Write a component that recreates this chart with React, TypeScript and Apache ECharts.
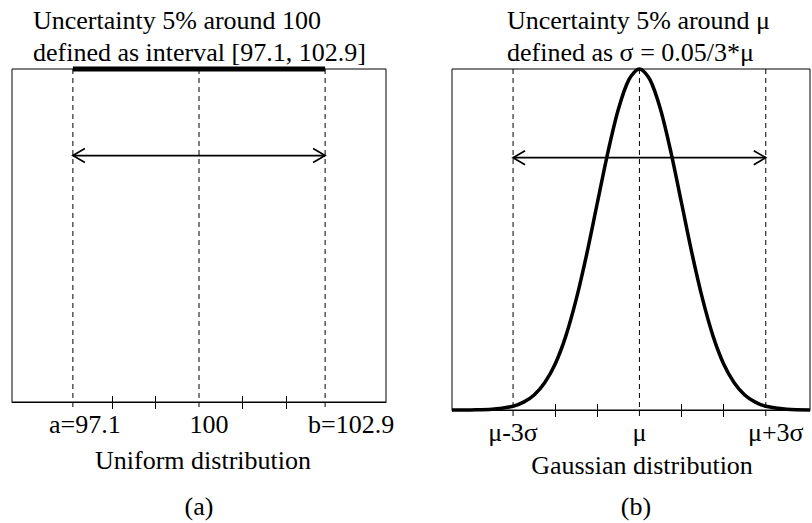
import React, { useEffect, useRef } from "react";
import * as echarts from "echarts";

// Panel (a): uniform distribution on [a, b]
const uniformBounds = [97.1, 102.9];
const uniformCenter = 100;
const uniformRange = [95.7, 104.3];
const uniformMarks = [97.1, 100, 102.9];
const uniformMarkLabels = ["a=97.1", "100", "b=102.9"];
const uniformLabelShift = [12, 10, 26]; // labels sit a little right of their guide lines
const uniformTicks = [98, 99, 101, 102];
const uniformArrowLevel = 0.74; // arrow height as a share of the density

// Panel (b): Gaussian distribution, x measured in units of sigma around mu
const sigmaRange = [-4.45, 4.05];
const sigmaMarks = [-3, 0, 3];
const sigmaMarkLabels = ["μ-3σ", "μ", "μ+3σ"];
const sigmaLabelShift = [0, 0, 10];
const sigmaTicks = [-2, -1, 1, 2];
const gaussX = [-4.45, -4, -3.5, -3, -2.75, -2.5, -2.25, -2, -1.75, -1.5, -1.25, -1, -0.75, -0.5, -0.25, 0,
  0.25, 0.5, 0.75, 1, 1.25, 1.5, 1.75, 2, 2.25, 2.5, 2.75, 3, 3.5, 4.05];
const gaussY = [0, 0.0003, 0.002, 0.011, 0.023, 0.044, 0.08, 0.135, 0.216, 0.325, 0.458, 0.607, 0.755, 0.882, 0.969, 1,
  0.969, 0.882, 0.755, 0.607, 0.458, 0.325, 0.216, 0.135, 0.08, 0.044, 0.023, 0.011, 0.002, 0.0003];
const gaussArrowLevel = 0.74;

const FONT = "'Liberation Serif', 'Times New Roman', serif";
const SIZE = 26;

// label text for a mark, nudged right with left padding inside a rich fragment
const labelFor = (marks: number[], labels: string[]) => (v: number) => {
  const i = marks.findIndex((m) => Math.abs(m - v) < 1e-6);
  return i >= 0 ? `{s${i}|${labels[i]}}` : "";
};
const richFor = (shifts: number[]) => {
  const rich: any = {};
  shifts.forEach((s, i) => {
    rich["s" + i] = { fontFamily: FONT, fontSize: SIZE, color: "#000", padding: [0, 0, 0, s * 2] };
  });
  return rich;
};

// horizontal double-headed arrow with open chevron heads
const arrowRender = (params: any, api: any) => {
  const p1 = api.coord([api.value(0), api.value(1)]);
  const p2 = api.coord([api.value(2), api.value(1)]);
  const h = 12;
  const w = 7;
  const style = { stroke: "#000", fill: null, lineWidth: 1.7 };
  return {
    type: "group",
    children: [
      { type: "line", shape: { x1: p1[0], y1: p1[1], x2: p2[0], y2: p2[1] }, style },
      { type: "polyline", shape: { points: [[p1[0] + h, p1[1] - w], [p1[0], p1[1]], [p1[0] + h, p1[1] + w]] }, style },
      { type: "polyline", shape: { points: [[p2[0] - h, p2[1] - w], [p2[0], p2[1]], [p2[0] - h, p2[1] + w]] }, style },
    ],
  };
};

// dashed vertical guide running from just below the axis up to a given value
const guideRender = (params: any, api: any) => {
  const top = api.coord([api.value(0), api.value(1)]);
  const bottom = api.coord([api.value(0), 0]);
  return {
    type: "line",
    shape: { x1: top[0], y1: top[1], x2: bottom[0], y2: bottom[1] + 7 },
    style: { stroke: "#000", lineWidth: 1, lineDash: [5, 4] },
  };
};

const tickAxes = (
  gridIndex: number,
  range: number[],
  ticks: number[],
  marks: number[],
  labels: string[],
  shifts: number[]
) => [
  {
    gridIndex,
    type: "value",
    position: "bottom",
    min: range[0],
    max: range[1],
    axisLine: { show: true, onZero: false, lineStyle: { color: "#000", width: 1 } },
    axisTick: { show: true, customValues: ticks, length: 7, lineStyle: { color: "#000", width: 1 } },
    axisLabel: {
      customValues: marks,
      formatter: labelFor(marks, labels),
      rich: richFor(shifts),
      color: "#000",
      fontFamily: FONT,
      fontSize: SIZE,
      margin: 9,
    },
    splitLine: { show: false },
  },
  {
    gridIndex,
    type: "value",
    position: "bottom",
    min: range[0],
    max: range[1],
    axisLine: { show: false },
    axisTick: { show: true, inside: true, customValues: ticks, length: 6, lineStyle: { color: "#000", width: 1 } },
    axisLabel: { show: false },
    splitLine: { show: false },
  },
];

const centeredText = (text: string, x: number, y: number) => ({
  type: "text",
  x,
  y,
  style: { text, font: `${SIZE}px ${FONT}`, align: "center", verticalAlign: "middle", fill: "#000" },
});

export default function App() {
  const ref = useRef<HTMLDivElement>(null);

  useEffect(() => {
    if (!ref.current) return;
    const chart = echarts.init(ref.current, null, { renderer: "svg" });
    const [a, b] = uniformBounds;
    const density = 1 / (b - a);

    const option: any = {
      animation: false,
      backgroundColor: "#fff",
      grid: [
        { left: 12, top: 69, width: 374, height: 333, show: true, borderColor: "#000", borderWidth: 1, backgroundColor: "#fff" },
        { left: 452, top: 69, width: 358, height: 341, show: true, borderColor: "#000", borderWidth: 1, backgroundColor: "#fff" },
      ],
      xAxis: [
        ...tickAxes(0, uniformRange, uniformTicks, uniformMarks, uniformMarkLabels, uniformLabelShift),
        ...tickAxes(1, sigmaRange, sigmaTicks, sigmaMarks, sigmaMarkLabels, sigmaLabelShift),
      ],
      yAxis: [
        { gridIndex: 0, type: "value", min: 0, max: density, show: false },
        { gridIndex: 1, type: "value", min: 0, max: 1, show: false },
      ],
      series: [
        {
          type: "custom",
          xAxisIndex: 0,
          yAxisIndex: 0,
          clip: false,
          renderItem: guideRender,
          encode: { x: 0, y: 1 },
          data: uniformMarks.map((m) => [m, density]),
        },
        {
          type: "line",
          xAxisIndex: 0,
          yAxisIndex: 0,
          clip: false,
          symbol: "none",
          lineStyle: { color: "#000", width: 5 },
          data: [[a, density], [b, density]],
          z: 5,
        },
        {
          type: "custom",
          xAxisIndex: 0,
          yAxisIndex: 0,
          renderItem: arrowRender,
          encode: { x: [0, 2], y: 1 },
          data: [[a, density * uniformArrowLevel, b]],
        },
        {
          type: "custom",
          xAxisIndex: 2,
          yAxisIndex: 1,
          clip: false,
          renderItem: guideRender,
          encode: { x: 0, y: 1 },
          data: sigmaMarks.map((m) => [m, 1]),
        },
        {
          type: "line",
          xAxisIndex: 2,
          yAxisIndex: 1,
          clip: false,
          symbol: "none",
          smooth: 0.3,
          lineStyle: { color: "#000", width: 3.5 },
          data: gaussX.map((x, i) => [x, gaussY[i]]),
          z: 5,
        },
        {
          type: "custom",
          xAxisIndex: 2,
          yAxisIndex: 1,
          renderItem: arrowRender,
          encode: { x: [0, 2], y: 1 },
          data: [[sigmaMarks[0], gaussArrowLevel, sigmaMarks[2]]],
        },
      ],
      graphic: [
        {
          type: "text",
          left: 33,
          top: 4,
          style: {
            text: "Uncertainty 5% around " + uniformCenter + "\ndefined as interval [" + a + ", " + b + "]",
            font: `${SIZE}px ${FONT}`,
            lineHeight: 32,
            fill: "#000",
          },
        },
        {
          type: "text",
          left: 507,
          top: 4,
          style: {
            text: "Uncertainty 5% around μ\ndefined as σ = 0.05/3*μ",
            font: `${SIZE}px ${FONT}`,
            lineHeight: 32,
            fill: "#000",
          },
        },
        centeredText("Uniform distribution", 203, 460),
        centeredText("Gaussian distribution", 642, 465),
        centeredText("(a)", 199, 506),
        centeredText("(b)", 636, 506),
      ],
    };

    chart.setOption(option);
    return () => chart.dispose();
  }, []);

  return <div ref={ref} style={{ position: "fixed", left: 0, top: 0, width: 812, height: 523, background: "#fff" }} />;
}
